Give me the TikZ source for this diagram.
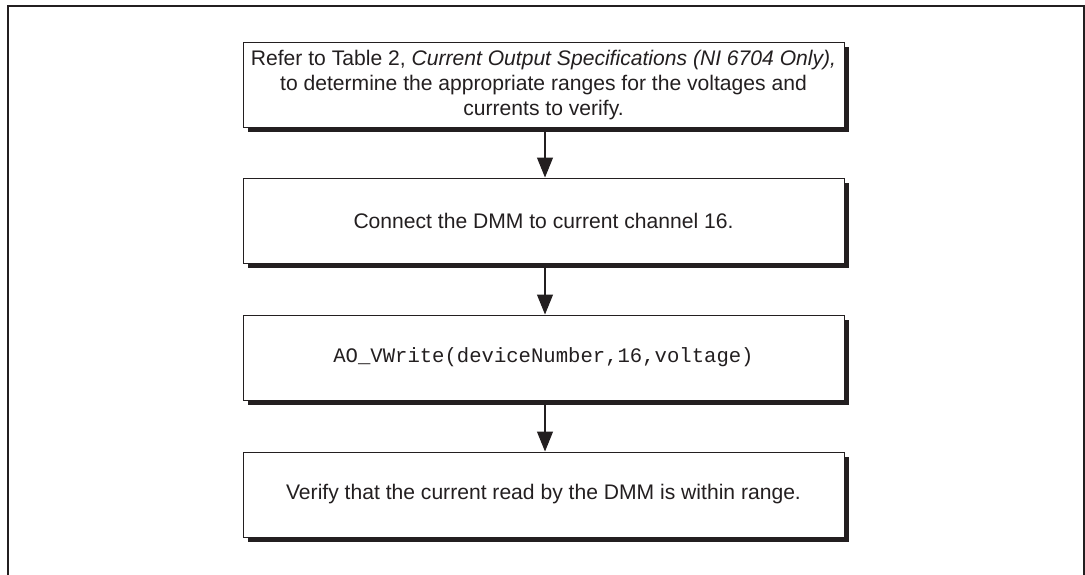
\documentclass[tikz,border=0pt]{standalone}
\usepackage{fontspec}
\setmainfont{Liberation Sans}
\setmonofont{Liberation Mono}
\usetikzlibrary{arrows.meta,shadows}
\definecolor{ink}{HTML}{231F20}
\begin{document}
\begin{tikzpicture}[x=1pt,y=-1pt,
  stepbox/.style={draw=ink,line width=1pt,fill=white,rectangle,
    minimum width=601pt,minimum height=85pt,inner sep=0pt,align=center,
    text=ink,font=\fontsize{21.1}{25}\selectfont,
    drop shadow={shadow xshift=4.5pt,shadow yshift=-4.5pt,fill=ink,opacity=1}},
  flow/.style={draw=ink,line width=1.1pt,-{Triangle[length=20pt,width=16pt]}}]
\useasboundingbox (0,0) rectangle (1085,574);
\draw[ink,line width=2.4pt] (8,576) -- (8,6.2) -- (1083.8,6.2) -- (1083.8,576);
\node[stepbox] (b1) at (543.5,84.5) {\rule{0pt}{17pt}Refer to Table 2, \textit{Current Output Specifications (NI 6704 Only),}\\to determine the appropriate ranges for the voltages and\\currents to verify.};
\node[stepbox] (b2) at (543.5,220.5) {Connect the DMM to current channel 16.};
\node[stepbox] (b3) at (543.5,357.5) {\fontsize{20.6}{25}\ttfamily AO\_VWrite(deviceNumber,16,voltage)};
\node[stepbox] (b4) at (543.5,494.5) {Verify that the current read by the DMM is within range.};
\draw[flow] ([xshift=1.5pt,yshift=-4.5pt]b1.south) -- ([xshift=1.5pt]b2.north);
\draw[flow] ([xshift=1.5pt,yshift=-4.5pt]b2.south) -- ([xshift=1.5pt]b3.north);
\draw[flow] ([xshift=1.5pt,yshift=-4.5pt]b3.south) -- ([xshift=1.5pt]b4.north);
\end{tikzpicture}
\end{document}
